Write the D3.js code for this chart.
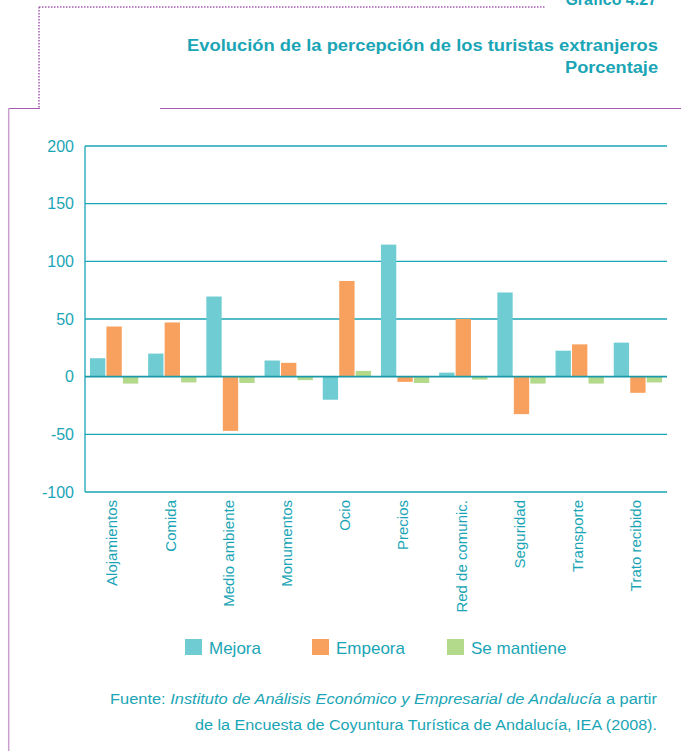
<!DOCTYPE html>
<html>
<head>
<meta charset="utf-8">
<script src="https://cdn.jsdelivr.net/npm/d3@7"></script>
<style>
  body { margin: 0; background: #fff; }
  svg { display: block; font-family: "Liberation Sans", Arial, sans-serif; }
</style>
</head>
<body>
<svg id="chart" width="681" height="751"></svg>
<script>
// data
const categories = ["Alojamientos", "Comida", "Medio ambiente", "Monumentos", "Ocio",
    "Precios", "Red de comunic.", "Seguridad", "Transporte", "Trato recibido"];
const seriesNames = ["Mejora", "Empeora", "Se mantiene"];
const mejora = [16, 20, 69.5, 14, -20, 114.5, 3.5, 73, 22.5, 29.5];
const empeora = [43.5, 47, -47, 12, 83, -4.5, 50, -32.5, 28, -14];
const seMantiene = [-6, -5, -5.5, -3, 5, -5.5, -2.5, -6, -6, -5];
const yTicks = [-100, -50, 0, 50, 100, 150, 200];
const colors = ["#70ccd3", "#f8a15e", "#b3d98b"];

const teal = "#1aa5b6";
const purple = "#a45cb0";

const svg = d3.select("#chart");

// frame lines
svg.append("line").attr("x1", 39).attr("x2", 546).attr("y1", 7).attr("y2", 7)
    .attr("stroke", purple).attr("stroke-width", 1.5).attr("stroke-dasharray", "1.5,1.5");
svg.append("line").attr("x1", 39).attr("x2", 39).attr("y1", 7).attr("y2", 108)
    .attr("stroke", purple).attr("stroke-width", 1.5).attr("stroke-dasharray", "1.5,1.5");
svg.append("line").attr("x1", 8).attr("x2", 40).attr("y1", 108.5).attr("y2", 108.5)
    .attr("stroke", purple).attr("stroke-width", 1);
svg.append("line").attr("x1", 160).attr("x2", 681).attr("y1", 108.5).attr("y2", 108.5)
    .attr("stroke", purple).attr("stroke-width", 1);
svg.append("line").attr("x1", 8.7).attr("x2", 8.7).attr("y1", 108).attr("y2", 751)
    .attr("stroke", "#c9a0cf").attr("stroke-width", 1.5);

// titles (the top one is cut by the page edge, as in the original)
svg.append("text").attr("x", 657).attr("y", 5).attr("text-anchor", "end")
    .attr("fill", teal).style("font-size", "16px").style("font-weight", "bold")
    .text("Gráfico 4.27");
svg.append("text").attr("x", 658).attr("y", 51).attr("text-anchor", "end")
    .attr("fill", teal).style("font-size", "16px").style("font-weight", "bold")
    .attr("textLength", 471).attr("lengthAdjust", "spacingAndGlyphs")
    .text("Evolución de la percepción de los turistas extranjeros");
svg.append("text").attr("x", 658).attr("y", 73).attr("text-anchor", "end")
    .attr("fill", teal).style("font-size", "16px").style("font-weight", "bold")
    .attr("textLength", 93).attr("lengthAdjust", "spacingAndGlyphs")
    .text("Porcentaje");

// scales
const plotLeft = 85, plotRight = 667, plotTop = 146, plotBottom = 492;
const y = d3.scaleLinear().domain([-100, 200]).range([plotBottom, plotTop]);
const x0 = d3.scaleBand().domain(categories).range([plotLeft, plotRight])
    .paddingInner(0.17).paddingOuter(0.085);
const x1 = d3.scaleBand().domain(seriesNames).range([0, x0.bandwidth()]).paddingInner(0.07);

// gridlines
svg.append("g").selectAll("line")
    .data(yTicks.filter(d => d !== 0))
    .join("line")
    .attr("x1", plotLeft).attr("x2", plotRight)
    .attr("y1", d => y(d)).attr("y2", d => y(d))
    .attr("stroke", teal).attr("stroke-width", 1.3);
svg.append("line").attr("x1", plotLeft).attr("x2", plotLeft).attr("y1", plotTop).attr("y2", plotBottom)
    .attr("stroke", teal).attr("stroke-width", 1.3);

// y labels
svg.append("g").selectAll("text")
    .data(yTicks)
    .join("text")
    .attr("x", 74).attr("y", d => y(d)).attr("dy", "0.35em")
    .attr("text-anchor", "end").attr("fill", teal).style("font-size", "16px")
    .text(d => d);

// bars
const rows = categories.map((c, i) => ({
    cat: c, values: [mejora[i], empeora[i], seMantiene[i]]
}));
const groups = svg.append("g").selectAll("g")
    .data(rows)
    .join("g")
    .attr("transform", d => `translate(${x0(d.cat)},0)`);
groups.selectAll("rect")
    .data(d => d.values.map((v, j) => ({ key: seriesNames[j], v: v, j: j })))
    .join("rect")
    .attr("x", d => x1(d.key))
    .attr("width", x1.bandwidth())
    .attr("y", d => y(Math.max(0, d.v)))
    .attr("height", d => Math.abs(y(d.v) - y(0)))
    .attr("fill", d => colors[d.j]);

// zero line on top
svg.append("line").attr("x1", plotLeft).attr("x2", plotRight).attr("y1", y(0)).attr("y2", y(0))
    .attr("stroke", "#1a9aa8").attr("stroke-width", 1.6);

// category labels
svg.append("g").selectAll("text")
    .data(categories)
    .join("text")
    .attr("transform", d => `translate(${x0(d) + x0.bandwidth() / 2 - 2},${plotBottom + 8}) rotate(-90)`)
    .attr("dy", "0.35em")
    .attr("text-anchor", "end").attr("fill", teal).style("font-size", "15px")
    .text(d => d);

// legend
const legendX = [185, 312, 447];
const legend = svg.append("g").selectAll("g")
    .data(seriesNames)
    .join("g")
    .attr("transform", (d, i) => `translate(${legendX[i]},639)`);
legend.append("rect").attr("width", 17).attr("height", 16).attr("fill", (d, i) => colors[i]);
legend.append("text").attr("x", 24).attr("y", 15).attr("fill", teal)
    .style("font-size", "17px").text(d => d);

// source
const src1 = svg.append("text").attr("x", 657).attr("y", 704).attr("text-anchor", "end")
    .attr("fill", teal).style("font-size", "15.5px")
    .attr("textLength", 547).attr("lengthAdjust", "spacingAndGlyphs");
src1.append("tspan").text("Fuente: ");
src1.append("tspan").style("font-style", "italic")
    .text("Instituto de Análisis Económico y Empresarial de Andalucía");
src1.append("tspan").text(" a partir");
svg.append("text").attr("x", 657).attr("y", 730).attr("text-anchor", "end")
    .attr("fill", teal).style("font-size", "15.5px")
    .attr("textLength", 462).attr("lengthAdjust", "spacingAndGlyphs")
    .text("de la Encuesta de Coyuntura Turística de Andalucía, IEA (2008).");
</script>
</body>
</html>
